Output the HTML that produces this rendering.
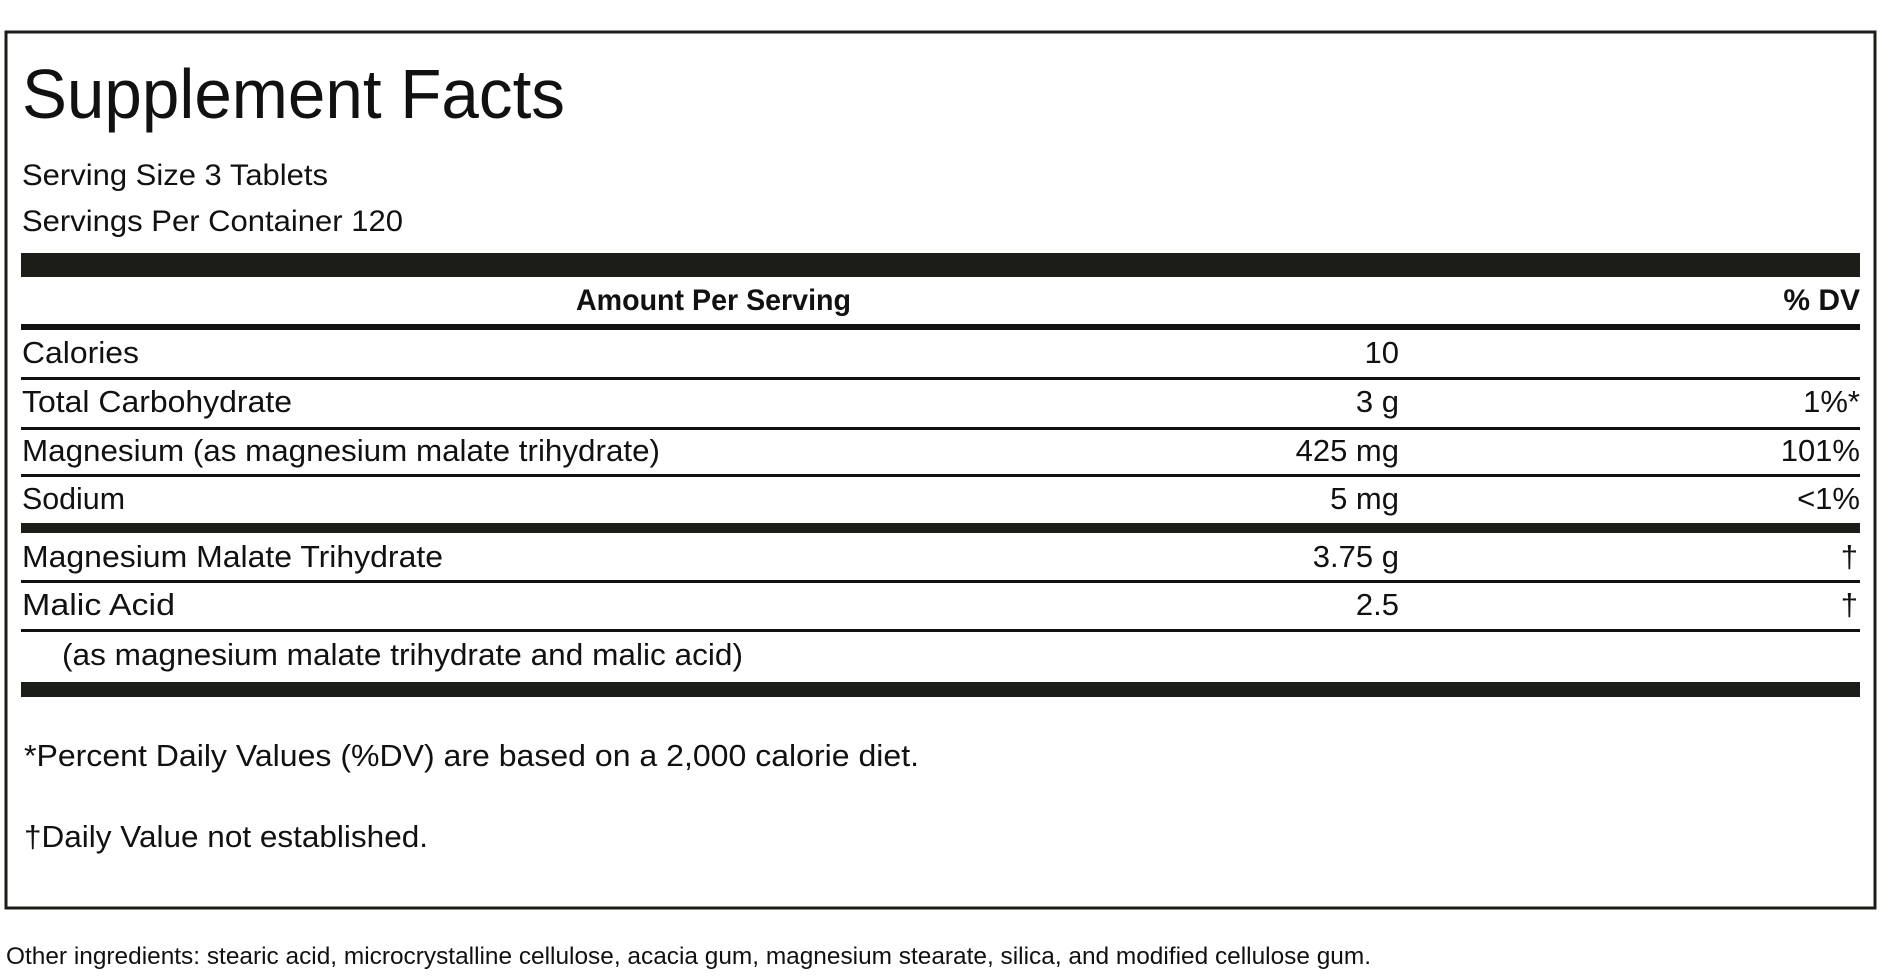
<!DOCTYPE html>
<html><head><meta charset="utf-8"><style>
html,body{margin:0;padding:0;background:#fff;width:1888px;height:980px;overflow:hidden}
svg{display:block}
text{font-family:"Liberation Sans",sans-serif;fill:#111}
</style></head><body>
<svg width="1888" height="980" viewBox="0 0 1888 980" xmlns="http://www.w3.org/2000/svg">
<rect x="6" y="32" width="1869" height="876" fill="none" stroke="#1d1d18" stroke-width="3"/>
<g transform="translate(0,-3)">
<text x="22" y="121" font-size="70" textLength="543" lengthAdjust="spacingAndGlyphs">Supplement Facts</text>
<text x="22" y="188" font-size="30" textLength="306" lengthAdjust="spacingAndGlyphs">Serving Size 3 Tablets</text>
<text x="22" y="234" font-size="30" textLength="381" lengthAdjust="spacingAndGlyphs">Servings Per Container 120</text>
<text x="576" y="313" font-size="30" font-weight="bold" textLength="275" lengthAdjust="spacingAndGlyphs">Amount Per Serving</text>
<text x="1860" y="313" font-size="30" font-weight="bold" text-anchor="end">% DV</text>
<g font-size="31">
<text x="22" y="366" textLength="117" lengthAdjust="spacingAndGlyphs">Calories</text>
<text x="1399" y="366" text-anchor="end">10</text>
<text x="22" y="415" textLength="270" lengthAdjust="spacingAndGlyphs">Total Carbohydrate</text>
<text x="1399" y="415" text-anchor="end">3 g</text>
<text x="1860" y="415" text-anchor="end">1%*</text>
<text x="22" y="464" textLength="638" lengthAdjust="spacingAndGlyphs">Magnesium (as magnesium malate trihydrate)</text>
<text x="1399" y="464" text-anchor="end">425 mg</text>
<text x="1860" y="464" text-anchor="end">101%</text>
<text x="22" y="512" textLength="103" lengthAdjust="spacingAndGlyphs">Sodium</text>
<text x="1399" y="512" text-anchor="end">5 mg</text>
<text x="1860" y="512" text-anchor="end">&lt;1%</text>
<text x="22" y="570" textLength="421" lengthAdjust="spacingAndGlyphs">Magnesium Malate Trihydrate</text>
<text x="1399" y="570" text-anchor="end">3.75 g</text>
<text x="1858" y="570" text-anchor="end">†</text>
<text x="22" y="618" textLength="153" lengthAdjust="spacingAndGlyphs">Malic Acid</text>
<text x="1399" y="618" text-anchor="end">2.5</text>
<text x="1858" y="618" text-anchor="end">†</text>
<text x="62" y="668" textLength="681" lengthAdjust="spacingAndGlyphs">(as magnesium malate trihydrate and malic acid)</text>
</g>
<text x="24" y="769" font-size="31" textLength="895" lengthAdjust="spacingAndGlyphs">*Percent Daily Values (%DV) are based on a 2,000 calorie diet.</text>
<text x="24" y="850" font-size="31" textLength="404" lengthAdjust="spacingAndGlyphs">†Daily Value not established.</text>
<text x="6" y="967" font-size="24" textLength="1365" lengthAdjust="spacingAndGlyphs">Other ingredients: stearic acid, microcrystalline cellulose, acacia gum, magnesium stearate, silica, and modified cellulose gum.</text>
</g>
<rect x="21" y="253" width="1839" height="24" fill="#1d1d18"/>
<rect x="21" y="324" width="1839" height="6" fill="#111"/>
<rect x="21" y="377" width="1839" height="3" fill="#111"/>
<rect x="21" y="427" width="1839" height="3" fill="#111"/>
<rect x="21" y="474" width="1839" height="3" fill="#111"/>
<rect x="21" y="523" width="1839" height="10" fill="#1d1d18"/>
<rect x="21" y="580" width="1839" height="3" fill="#111"/>
<rect x="21" y="629" width="1839" height="3" fill="#111"/>
<rect x="21" y="682" width="1839" height="15" fill="#1d1d18"/>
</svg>
</body></html>
